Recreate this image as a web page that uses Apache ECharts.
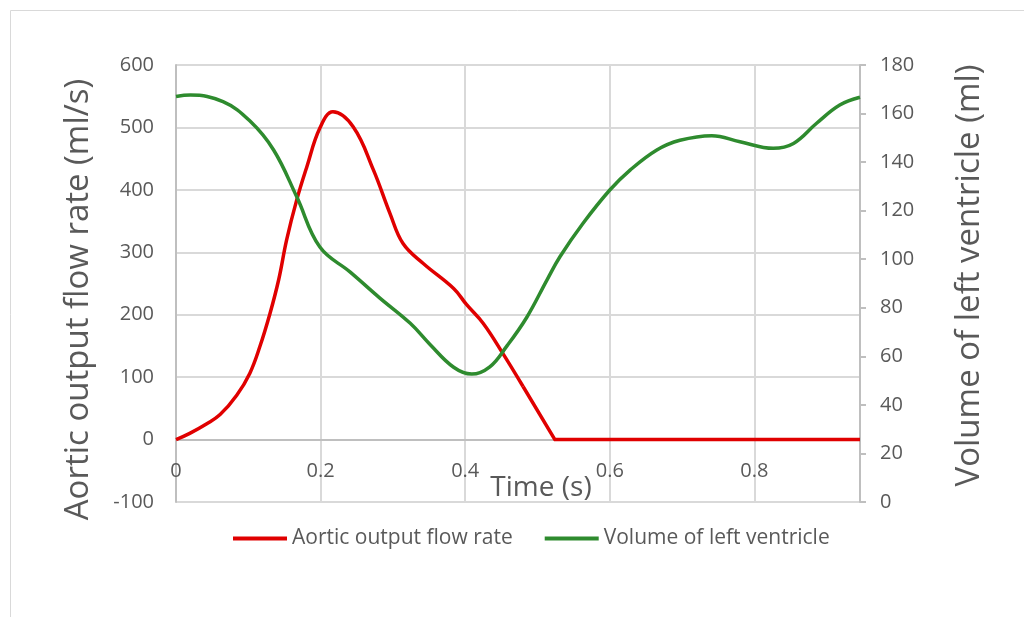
<!DOCTYPE html>
<html>
<head>
<meta charset="utf-8">
<script src="https://cdn.jsdelivr.net/npm/echarts@6/dist/echarts.min.js"></script>
<style>
html, body { margin: 0; padding: 0; background: #fff; }
#chart { width: 1024px; height: 617px; }
</style>
</head>
<body>
<div id="chart"></div>
<script>
// time (s) and aortic flow (ml/s)
var flowTime = [0, 0.019, 0.042, 0.061, 0.084, 0.102, 0.116, 0.130, 0.142, 0.153, 0.167, 0.181, 0.199, 0.217, 0.245, 0.273, 0.296, 0.314, 0.342, 0.384, 0.402, 0.425, 0.452, 0.480, 0.524, 0.946];
var flowRate = [0, 10, 25, 40, 71, 106, 149, 202, 256, 320, 384, 437, 499, 525, 501, 432, 362, 314, 282, 242, 216, 186, 138, 85, 0, 0];
// from this point on the flow curve is straight (valve closed)
var flowStraightFrom = 23;

// time (s) and left ventricle volume (ml)
var volTime = [0, 0.020, 0.065, 0.102, 0.135, 0.167, 0.199, 0.241, 0.282, 0.324, 0.351, 0.384, 0.409, 0.434, 0.457, 0.485, 0.513, 0.531, 0.563, 0.600, 0.628, 0.665, 0.697, 0.741, 0.780, 0.826, 0.854, 0.886, 0.918, 0.946];
var volume = [167, 167.6, 164.9, 157, 145, 125.7, 105, 94.7, 84, 73.6, 65, 55.5, 52.7, 55.7, 64, 76, 91.4, 101, 114.8, 128.5, 136.7, 145, 149, 150.9, 148.4, 145.7, 147.7, 156, 163.5, 166.7];

var seriesNames = ['Aortic output flow rate', 'Volume of left ventricle'];

function pairs(xs, ys) {
	var out = [];
	for (var i = 0; i < xs.length; i++) out.push([xs[i], ys[i]]);
	return out;
}

var txt = '#595959';
var grid = '#D9D9D9';
var axisCol = '#BFBFBF';
var font = 'Open Sans';
var red = '#E00000';
var green = '#2E8B2E';

var flowData = pairs(flowTime, flowRate);

var myChart = echarts.init(document.getElementById('chart'));

var option = {
	animation: false,
	graphic: [{
		type: 'rect',
		shape: { x: 10.5, y: 10.5, width: 1100, height: 700 },
		style: { fill: 'none', stroke: grid, lineWidth: 1 },
		silent: true
	}],
	grid: {
		left: 176,
		right: 164,
		top: 65,
		bottom: 115
	},
	legend: {
		left: 228,
		top: 523,
		icon: 'rect',
		itemWidth: 54,
		itemHeight: 4,
		itemGap: 32,
		textStyle: { color: txt, fontSize: 21, fontFamily: font },
		data: seriesNames
	},
	xAxis: {
		type: 'value',
		min: 0,
		max: 0.946,
		interval: 0.2,
		// axis crosses at y = 0 (one 100-step above the bottom)
		offset: -62.43,
		name: 'Time (s)',
		nameLocation: 'middle',
		nameGap: 34,
		nameMoveOverlap: false,
		nameTextStyle: { color: txt, fontSize: 28, fontFamily: font, padding: [0, 0, 0, 46] },
		axisLine: { onZero: false, lineStyle: { color: axisCol, width: 2 } },
		axisTick: { show: false },
		axisLabel: { color: txt, fontSize: 20, fontFamily: font, margin: 22, showMaxLabel: false },
		splitLine: { show: true, lineStyle: { color: grid, width: 2 } }
	},
	yAxis: [{
		type: 'value',
		min: -100,
		max: 600,
		interval: 100,
		name: 'Aortic output flow rate (ml/s)',
		nameLocation: 'middle',
		nameGap: 81,
		nameTextStyle: { color: txt, fontSize: 33, fontFamily: font, padding: [0, 32, 0, 0] },
		axisLine: { show: true, onZero: false, lineStyle: { color: axisCol, width: 2 } },
		axisTick: { show: false },
		axisLabel: { color: txt, fontSize: 20, fontFamily: font, margin: 22 },
		splitLine: { show: true, lineStyle: { color: grid, width: 2 } }
	}, {
		type: 'value',
		min: 0,
		max: 180,
		interval: 20,
		position: 'right',
		name: 'Volume of left ventricle (ml)',
		nameLocation: 'middle',
		nameGap: 93,
		nameTextStyle: { color: txt, fontSize: 33, fontFamily: font, padding: [0, 0, 0, 16] },
		axisLine: { show: true, onZero: false, lineStyle: { color: axisCol, width: 2 } },
		axisTick: { show: true, length: 6, lineStyle: { color: axisCol, width: 2 } },
		axisLabel: { color: txt, fontSize: 20, fontFamily: font, margin: 20 },
		splitLine: { show: false }
	}],
	series: [{
		name: seriesNames[0],
		type: 'line',
		yAxisIndex: 0,
		smooth: 0.4,
		symbol: 'none',
		lineStyle: { color: red, width: 3.5 },
		itemStyle: { color: red },
		data: flowData.slice(0, flowStraightFrom + 1)
	}, {
		// same series, straight tail
		name: seriesNames[0],
		type: 'line',
		yAxisIndex: 0,
		smooth: false,
		symbol: 'none',
		lineStyle: { color: red, width: 3.5, join: 'round' },
		itemStyle: { color: red },
		data: flowData.slice(flowStraightFrom)
	}, {
		name: seriesNames[1],
		type: 'line',
		yAxisIndex: 1,
		smooth: 0.4,
		symbol: 'none',
		lineStyle: { color: green, width: 3.5 },
		itemStyle: { color: green },
		data: pairs(volTime, volume)
	}]
};

myChart.setOption(option);
</script>
</body>
</html>
